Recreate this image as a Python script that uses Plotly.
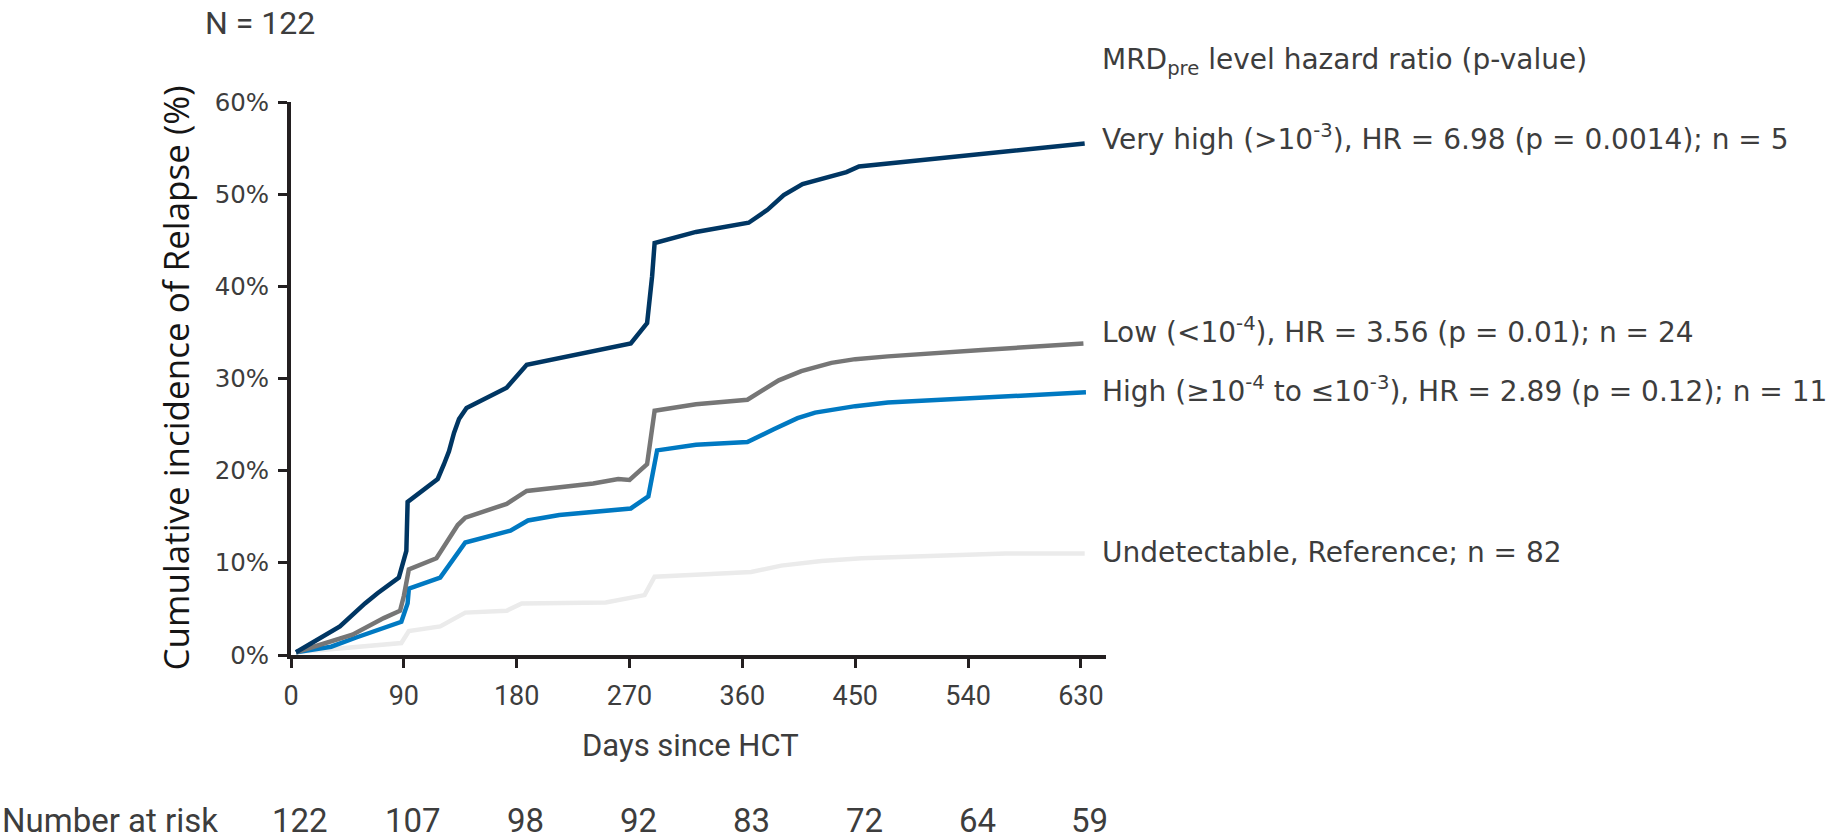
import plotly.graph_objects as go

# Cumulative incidence of relapse by pre-HCT MRD level (days since HCT, %)
very_high_days = [4, 24, 39, 59, 69, 86, 89, 92, 93, 117, 122, 126, 130, 134, 140, 172, 188,
                  271, 284, 286, 288, 290, 323, 365, 380, 393, 408, 443, 453, 633]
very_high_pct = [0.3, 1.9, 3.1, 5.6, 6.7, 8.4, 9.7, 11.3, 16.6, 19.1, 20.7, 22.1, 24.1, 25.6, 26.8,
                 29.0, 31.5, 33.8, 36.0, 38.2, 41.1, 44.7, 45.9, 46.9, 48.3, 49.9, 51.1, 52.4, 53.0, 55.5]

low_days = [4, 49, 74, 87, 90, 94, 116, 125, 133, 139, 172, 180, 188, 241, 261, 270, 284, 290,
            323, 364, 389, 407, 431, 450, 476, 551, 632]
low_pct = [0.3, 2.2, 4.0, 4.8, 6.4, 9.3, 10.5, 12.4, 14.1, 14.9, 16.4, 17.1, 17.8, 18.6, 19.1, 19.0,
           20.7, 26.5, 27.2, 27.7, 29.8, 30.8, 31.7, 32.1, 32.4, 33.1, 33.8]

high_days = [4, 32, 52, 88, 93, 94, 119, 139, 175, 189, 214, 271, 285, 292, 323, 364, 385, 404,
             418, 450, 476, 634]
high_pct = [0.3, 0.9, 1.9, 3.6, 5.6, 7.2, 8.4, 12.2, 13.5, 14.6, 15.2, 15.9, 17.2, 22.2, 22.8, 23.1,
            24.5, 25.7, 26.3, 27.0, 27.4, 28.5]

undet_days = [4, 61, 88, 94, 119, 139, 172, 184, 251, 282, 290, 323, 367, 391, 423, 455, 503, 570, 633]
undet_pct = [0.3, 0.9, 1.3, 2.6, 3.1, 4.6, 4.8, 5.6, 5.7, 6.5, 8.5, 8.7, 9.0, 9.7, 10.2, 10.5, 10.7,
             11.0, 11.0]

x_ticks = [0, 90, 180, 270, 360, 450, 540, 630]
y_ticks = [0, 10, 20, 30, 40, 50, 60]
y_tick_labels = ["0%", "10%", "20%", "30%", "40%", "50%", "60%"]
at_risk = [122, 107, 98, 92, 83, 72, 64, 59]

legend_title = "MRD<sub>pre</sub> level hazard ratio (p-value)"
series_labels = [
    "Undetectable, Reference; n = 82",
    "High (\u226510<sup>-4</sup> to \u226410<sup>-3</sup>), HR = 2.89 (p = 0.12); n = 11",
    "Low (<10<sup>-4</sup>), HR = 3.56 (p = 0.01); n = 24",
    "Very high (>10<sup>-3</sup>), HR = 6.98 (p = 0.0014); n = 5",
]
series_colors = ["#ebebeb", "#0079c2", "#767676", "#003663"]
series_x = [undet_days, high_days, low_days, very_high_days]
series_y = [undet_pct, high_pct, low_pct, very_high_pct]

# vertical placement of the end-of-line labels (fraction of plot height)
label_pos = [0.186, 0.481, 0.586, 0.935]

TEXT = "#3d3d3d"
AXIS = "#231f20"
SANS = "DejaVu Sans"
NARROW = "Roboto"

fig = go.Figure()
for xs, ys, col in zip(series_x, series_y, series_colors):
    fig.add_trace(go.Scatter(x=xs, y=ys, mode="lines",
                             line=dict(color=col, width=4.5), hoverinfo="skip"))

annotations = []
for text, yp in zip(series_labels, label_pos):
    annotations.append(dict(x=1.0, xref="paper", y=yp, yref="paper", xanchor="left",
                            yanchor="middle", xshift=-6, text=text, showarrow=False,
                            font=dict(family=SANS, size=28, color=TEXT)))
annotations.append(dict(x=1.0, xref="paper", y=1.074, yref="paper", xanchor="left",
                        yanchor="middle", xshift=-6, text=legend_title, showarrow=False,
                        font=dict(family=SANS, size=28, color=TEXT)))
annotations.append(dict(x=0, xref="paper", y=1, yref="paper", xanchor="left", yanchor="middle",
                        xshift=-88, yshift=79, text="N = 122", showarrow=False,
                        font=dict(family=NARROW, size=32, color=TEXT)))
annotations.append(dict(x=0, xref="paper", y=0.5, yref="paper", xanchor="center",
                        yanchor="middle", xshift=-116, yshift=0, textangle=-90,
                        text="Cumulative incidence of Relapse (%)", showarrow=False,
                        font=dict(family="Open Sans", size=35, color="#151515")))
annotations.append(dict(x=319, xref="x", y=0, yref="paper", xanchor="center", yanchor="middle",
                        yshift=-90, text="Days since HCT", showarrow=False,
                        font=dict(family=NARROW, size=31, color=TEXT)))
annotations.append(dict(x=0, xref="paper", y=0, yref="paper", xanchor="left", yanchor="middle",
                        xshift=-291, yshift=-165, text="Number at risk", showarrow=False,
                        font=dict(family=NARROW, size=33, color=TEXT)))
for xv, n in zip(x_ticks, at_risk):
    annotations.append(dict(x=xv, xref="x", y=0, yref="paper", xanchor="center", yanchor="middle",
                            xshift=9, yshift=-165, text=str(n), showarrow=False,
                            font=dict(family=NARROW, size=33, color=TEXT)))

fig.update_layout(
    width=1833, height=840,
    margin=dict(l=291, r=727, t=102, b=185, autoexpand=False),
    paper_bgcolor="white", plot_bgcolor="white",
    showlegend=False,
    annotations=annotations,
    xaxis=dict(range=[0, 650], tickvals=x_ticks, ticks="outside", ticklen=9, tickwidth=3,
               tickcolor=AXIS, showline=True, linewidth=4, linecolor=AXIS, showgrid=False,
               zeroline=False, ticklabelstandoff=5,
               tickfont=dict(family=NARROW, size=27, color=TEXT)),
    yaxis=dict(range=[0, 60], tickvals=y_ticks, ticktext=y_tick_labels, ticks="outside",
               ticklen=9, tickwidth=3, tickcolor=AXIS, showline=True, linewidth=4,
               linecolor=AXIS, showgrid=False, zeroline=False, ticklabelstandoff=4,
               tickfont=dict(family=SANS, size=24.5, color=TEXT)),
)

fig.write_html("out.html")
